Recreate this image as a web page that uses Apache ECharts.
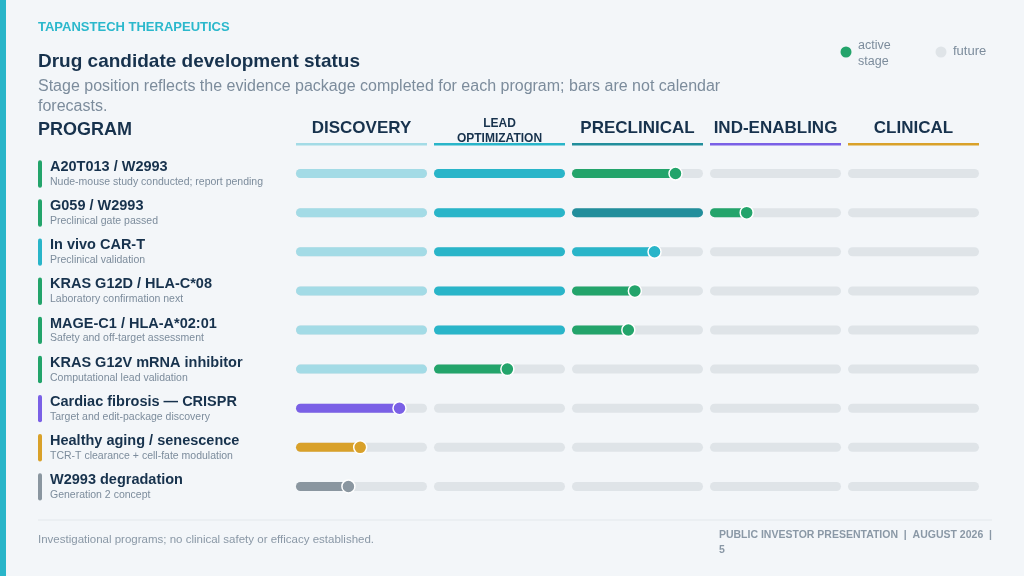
<!DOCTYPE html>
<html>
<head>
<meta charset="utf-8">
<script src="https://cdn.jsdelivr.net/npm/echarts@6/dist/echarts.min.js"></script>
<style>
  html, body { margin: 0; padding: 0; background: #f3f6f9; }
  #chart { width: 1024px; height: 576px; }
</style>
</head>
<body>
<div id="chart"></div>
<script>
const stages = ['DISCOVERY', 'LEAD\nOPTIMIZATION', 'PRECLINICAL', 'IND-ENABLING', 'CLINICAL'];
const stageLineColors = ['#a3dbe6', '#29b5c9', '#228e9c', '#7a60e6', '#d9a12a'];
const stageDoneColors = ['#a3dbe6', '#29b5c9', '#228e9c', '#7a60e6', '#d9a12a'];

const programs = ['A20T013 / W2993', 'G059 / W2993', 'In vivo CAR-T', 'KRAS G12D / HLA-C*08',
    'MAGE-C1 / HLA-A*02:01', 'KRAS G12V mRNA inhibitor', 'Cardiac fibrosis \u2014 CRISPR',
    'Healthy aging / senescence', 'W2993 degradation'];
const notes = ['Nude-mouse study conducted; report pending', 'Preclinical gate passed',
    'Preclinical validation', 'Laboratory confirmation next', 'Safety and off-target assessment',
    'Computational lead validation', 'Target and edit-package discovery',
    'TCR-T clearance + cell-fate modulation', 'Generation 2 concept'];
const accentColors = ['#23a46b', '#23a46b', '#29b5c9', '#23a46b', '#23a46b', '#23a46b',
    '#7a60e6', '#d9a12a', '#8a96a0'];
const activeColors = ['#23a46b', '#23a46b', '#29b5c9', '#23a46b', '#23a46b', '#23a46b',
    '#7a60e6', '#d9a12a', '#8a96a0'];
// completion of each stage (0..1), in stage order
const progress = [
    [1, 1, 0.79, 0, 0],
    [1, 1, 1, 0.28, 0],
    [1, 1, 0.63, 0, 0],
    [1, 1, 0.48, 0, 0],
    [1, 1, 0.43, 0, 0],
    [1, 0.56, 0, 0, 0],
    [0.79, 0, 0, 0, 0],
    [0.49, 0, 0, 0, 0],
    [0.40, 0, 0, 0, 0]
];

const STEP = 138, WIDTH = 131;
const span = WIDTH / STEP;
const xMax = 4 + span;

const chart = echarts.init(document.getElementById('chart'));

function renderRow(params, api) {
    const row = api.value(0);
    const p = progress[row];
    const children = [];
    const yc = api.coord([0, row])[1];
    const h = 9;
    const bandH = api.size([0, 1])[1];
    children.push({
        type: 'rect',
        shape: { x: 38, y: yc - bandH * 0.34, width: 4, height: bandH * 0.7, r: 2 },
        style: { fill: accentColors[row] }
    });
    let dot = null;
    for (let i = 0; i < stages.length; i++) {
        const a = api.coord([i, row])[0];
        const b = api.coord([i + span, row])[0];
        children.push({
            type: 'rect',
            shape: { x: a, y: yc - h / 2, width: b - a, height: h, r: h / 2 },
            style: { fill: '#dfe4e8' }
        });
        if (p[i] > 0) {
            const e = api.coord([i + span * p[i], row])[0];
            const done = p[i] >= 1;
            children.push({
                type: 'rect',
                shape: { x: a, y: yc - h / 2, width: e - a, height: h, r: h / 2 },
                style: { fill: done ? stageDoneColors[i] : activeColors[row] }
            });
            if (!done) dot = e;
        }
    }
    if (dot !== null) {
        children.push({
            type: 'circle',
            shape: { cx: dot, cy: yc, r: 6.5 },
            style: { fill: activeColors[row], stroke: '#ffffff', lineWidth: 1.5 }
        });
    }
    return { type: 'group', children: children };
}

const graphics = [
    { type: 'rect', left: 0, top: 0, shape: { width: 6, height: 576 }, style: { fill: '#29b5c9' } },
    { type: 'text', left: 38, top: 21, style: { text: 'TAPANSTECH THERAPEUTICS', fill: '#2bb8cc', font: 'bold 13px "Liberation Sans", Arial' } },
    { type: 'text', left: 38, top: 52, style: { text: 'Drug candidate development status', fill: '#17324d', font: 'bold 19px "Liberation Sans", Arial' } },
    { type: 'text', left: 38, top: 77, style: { text: 'Stage position reflects the evidence package completed for each program; bars are not calendar\nforecasts.', fill: '#7c8c9c', font: '16px "Liberation Sans", Arial', lineHeight: 20 } },
    { type: 'text', left: 38, top: 121, style: { text: 'PROGRAM', fill: '#17324d', font: 'bold 18px "Liberation Sans", Arial' } },
    { type: 'circle', shape: { cx: 846, cy: 52, r: 5.5 }, style: { fill: '#23a46b' } },
    { type: 'text', left: 858, top: 38, style: { text: 'active\nstage', fill: '#7c8c9c', font: '12.5px "Liberation Sans", Arial', lineHeight: 16 } },
    { type: 'circle', shape: { cx: 941, cy: 52, r: 5.5 }, style: { fill: '#dfe4e8' } },
    { type: 'text', left: 953, top: 45, style: { text: 'future', fill: '#7c8c9c', font: '13px "Liberation Sans", Arial' } },
    { type: 'line', shape: { x1: 38, y1: 520, x2: 992, y2: 520 }, style: { stroke: '#e3e8ec', lineWidth: 1 } },
    { type: 'text', left: 38, top: 534, style: { text: 'Investigational programs; no clinical safety or efficacy established.', fill: '#8a98a6', font: '11.5px "Liberation Sans", Arial' } },
    { type: 'text', right: 32, top: 528, style: { text: 'PUBLIC INVESTOR PRESENTATION  |  AUGUST 2026  |\n5', fill: '#8a98a6', font: 'bold 10.5px "Liberation Sans", Arial', align: 'right', lineHeight: 15 } }
];
stages.forEach(function (s, i) {
    const x0 = 296 + i * STEP;
    const two = s.indexOf('\n') >= 0;
    graphics.push({
        type: 'text', x: x0 + WIDTH / 2, y: two ? 116 : 121,
        style: { text: s, fill: '#17324d', align: 'center',
            font: two ? 'bold 12px "Liberation Sans", Arial' : 'bold 17px "Liberation Sans", Arial', lineHeight: 15 }
    });
    graphics.push({
        type: 'rect', shape: { x: x0, y: 143, width: WIDTH, height: 2.5 },
        style: { fill: stageLineColors[i] }
    });
});

const option = {
    backgroundColor: '#f3f6f9',
    animation: false,
    grid: { left: 296, right: 45, top: 154, bottom: 70 },
    xAxis: { type: 'value', min: 0, max: xMax, show: false },
    yAxis: {
        type: 'category', inverse: true, data: programs.map(function (_, i) { return i; }),
        axisLine: { show: false }, axisTick: { show: false }, splitLine: { show: false },
        axisLabel: {
            align: 'left', margin: 246,
            formatter: function (v) {
                const i = Number(v);
                return '{n|' + programs[i] + '}\n{s|' + notes[i] + '}';
            },
            rich: {
                n: { fontSize: 14.5, fontWeight: 'bold', color: '#17324d', fontFamily: 'Liberation Sans', lineHeight: 17 },
                s: { fontSize: 10.5, color: '#7c8c9c', fontFamily: 'Liberation Sans', lineHeight: 13 }
            }
        }
    },
    series: [{
        type: 'custom',
        renderItem: renderRow,
        encode: { y: 0 },
        data: programs.map(function (_, i) { return [i]; })
    }],
    graphic: graphics
};

option && chart.setOption(option);
</script>
</body>
</html>
